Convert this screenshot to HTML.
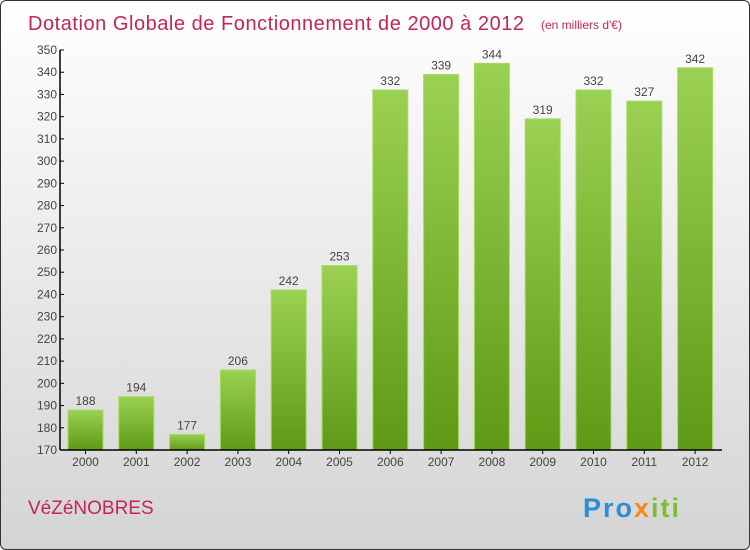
<!DOCTYPE html>
<html><head><meta charset="utf-8"><style>
body{margin:0;width:750px;height:550px;overflow:hidden;font-family:"Liberation Sans",sans-serif}
#frame{position:absolute;left:0;top:0;width:748px;height:548px;border:1px solid #333;border-radius:6px;background:linear-gradient(#ffffff,#d4d4d4)}
</style></head><body>
<div id="frame"></div>
<svg id="c" width="750" height="550" style="position:absolute;left:0;top:0">
<defs><linearGradient id="g" x1="0" y1="0" x2="0" y2="1"><stop offset="0" stop-color="#9bd152"/><stop offset="1" stop-color="#5e9a15"/></linearGradient></defs>
<text x="28" y="30" font-size="20" fill="#c4245c" textLength="496">Dotation Globale de Fonctionnement de 2000 à 2012</text>
<text x="541" y="29" font-size="12" fill="#c4245c">(en milliers d'€)</text>
<text x="28" y="514" font-size="19" fill="#c4245c">VéZéNOBRES</text>
<text x="583" y="517" font-size="27" font-weight="bold" fill="#2a8fd8" letter-spacing="2">Pro<tspan fill="#f08a1c">x</tspan><tspan fill="#7bbf2a">iti</tspan></text>
<g id="plot"></g>
</svg>
<script>
const categories=["2000","2001","2002","2003","2004","2005","2006","2007","2008","2009","2010","2011","2012"];
const values=[188,194,177,206,242,253,332,339,344,319,332,327,342];
const yTicks=[170,180,190,200,210,220,230,240,250,260,270,280,290,300,310,320,330,340,350];
const y0=450,y1=50,vmin=170,vmax=350,x0=60,step=50.8,bw=35;
const y=v=>y0-(v-vmin)/(vmax-vmin)*(y0-y1);
const xc=i=>85.5+i*step;
const ns="http://www.w3.org/2000/svg",g=document.getElementById('plot');
function mk(t,a,txt){const e=document.createElementNS(ns,t);for(const k in a)e.setAttribute(k,a[k]);if(txt!=null)e.textContent=txt;g.appendChild(e);return e;}
values.forEach((v,i)=>{
 const r=mk('rect',{x:xc(i)-bw/2,y:y(v),width:bw,height:y0-y(v),fill:'url(#g)',stroke:'#a8dc60','stroke-width':1});
 
 
 const t=mk('text',{x:xc(i),y:y(v)-5,'text-anchor':'middle','font-size':12,fill:'#444'},v);
 
 
 const c=mk('text',{x:xc(i),y:466,'text-anchor':'middle','font-size':12,fill:'#444'},categories[i]);
 
 
 const tk=mk('line',{x1:xc(i),x2:xc(i),y1:y0,y2:y0+4,stroke:'#000'});
 
 
});
yTicks.forEach(v=>{
 const l=mk('line',{x1:x0,x2:x0+4,y1:y(v),y2:y(v),stroke:'#000'});
 
 
 const t=mk('text',{x:x0-3,y:y(v)+4,'text-anchor':'end','font-size':12,fill:'#444'},v);
 
 
});
const ya=mk('line',{x1:x0,x2:x0,y1:y1,y2:y0,stroke:'#000','stroke-width':1.5});


const xa=mk('line',{x1:x0,x2:722,y1:y0,y2:y0,stroke:'#000','stroke-width':1.5});


</script>
</body></html>
